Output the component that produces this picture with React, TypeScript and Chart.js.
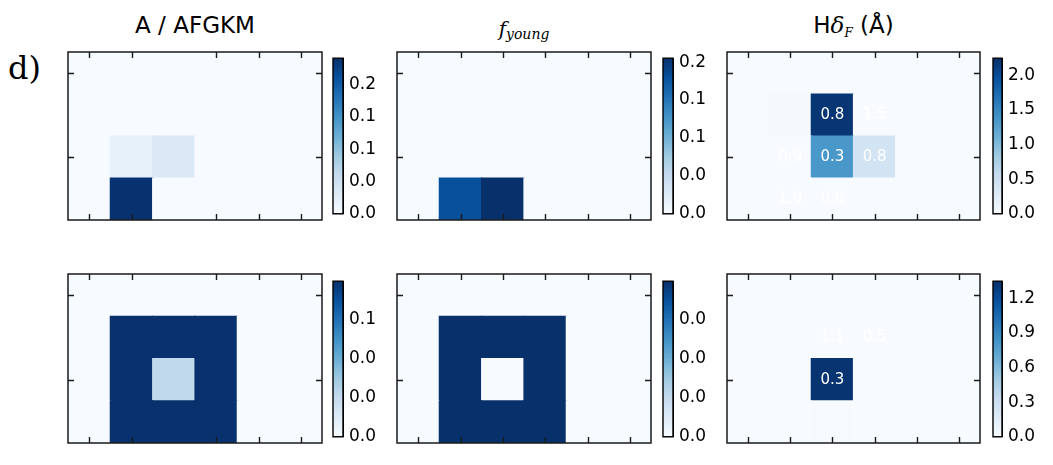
import React, { useEffect, useRef } from "react";
import { Chart, registerables } from "chart.js";

Chart.register(...registerables);
Chart.defaults.font.family = "DejaVu Sans";

// ---------------- data ----------------
const columnLabels = ["1", "2", "3", "4", "5", "6"];
const yTickRows = [1.5, 3.5]; // row centres (counted from bottom) that carry a tick

// cell values, rows listed top -> bottom
const aTopValues = [
  [0, 0, 0, 0, 0, 0],
  [0, 0, 0, 0, 0, 0],
  [0, 0.017, 0.03, 0, 0, 0],
  [0, 0.215, 0, 0, 0, 0],
];
const youngTopValues = [
  [0, 0, 0, 0, 0, 0],
  [0, 0, 0, 0, 0, 0],
  [0, 0, 0, 0, 0, 0],
  [0, 0.173, 0.197, 0, 0, 0],
];
const hTopValues = [
  [0, 0, 0, 0, 0, 0],
  [0, 0.03, 2.2, 0, 0, 0],
  [0, 0, 1.35, 0.42, 0, 0],
  [0, 0, 0, 0, 0, 0],
];
const hTopText = [
  ["", "", "", "", "", ""],
  ["", "", "0.8", "1.5", "", ""],
  ["", "0.9", "0.3", "0.8", "", ""],
  ["", "1.0", "0.6", "", "", ""],
];
const aBottomValues = [
  [0, 0, 0, 0, 0, 0],
  [0, 0.079, 0.079, 0.079, 0, 0],
  [0, 0.079, 0.021, 0.079, 0, 0],
  [0, 0.079, 0.079, 0.079, 0, 0],
];
const youngBottomValues = [
  [0, 0, 0, 0, 0, 0],
  [0, 0.0476, 0.0476, 0.0476, 0, 0],
  [0, 0.0476, 0, 0.0476, 0, 0],
  [0, 0.0476, 0.0476, 0.0476, 0, 0],
];
const hBottomValues = [
  [0, 0, 0, 0, 0, 0],
  [0, 0, 0, 0, 0, 0],
  [0, 0.01, 1.33, 0, 0, 0],
  [0, 0, 0.01, 0, 0, 0],
];
const hBottomText = [
  ["", "", "", "", "", ""],
  ["", "", "1.1", "0.5", "", ""],
  ["", "", "0.3", "", "", ""],
  ["", "", "", "", "", ""],
];

// colour bars
const cbATopMax = 0.217;
const cbATopTicks = [0, 0.045, 0.09, 0.135, 0.18];
const cbATopLabels = ["0.0", "0.0", "0.1", "0.1", "0.2"];
const cbYoungTopMax = 0.197;
const cbYoungTopTicks = [0, 0.048, 0.096, 0.144, 0.192];
const cbYoungTopLabels = ["0.0", "0.0", "0.1", "0.1", "0.2"];
const cbHTopMax = 2.25;
const cbHTopTicks = [0, 0.5, 1.0, 1.5, 2.0];
const cbHTopLabels = ["0.0", "0.5", "1.0", "1.5", "2.0"];
const cbABottomMax = 0.0794;
const cbABottomTicks = [0, 0.02, 0.04, 0.06];
const cbABottomLabels = ["0.0", "0.0", "0.0", "0.1"];
const cbYoungBottomMax = 0.0476;
const cbYoungBottomTicks = [0, 0.012, 0.024, 0.036];
const cbYoungBottomLabels = ["0.0", "0.0", "0.0", "0.0"];
const cbHBottomMax = 1.35;
const cbHBottomTicks = [0, 0.3, 0.6, 0.9, 1.2];
const cbHBottomLabels = ["0.0", "0.3", "0.6", "0.9", "1.2"];

// ---------------- colour map ----------------
const BLUES = ["#f7fbff", "#deebf7", "#c6dbef", "#9ecae1", "#6baed6", "#4292c6", "#2171b5", "#08519c", "#08306b"];
function hexToRgb(h: string) {
  return [parseInt(h.slice(1, 3), 16), parseInt(h.slice(3, 5), 16), parseInt(h.slice(5, 7), 16)];
}
function blues(t: number) {
  const c = Math.max(0, Math.min(1, t));
  const p = c * 8;
  const i = Math.min(7, Math.floor(p));
  const f = p - i;
  const a = hexToRgb(BLUES[i]);
  const b = hexToRgb(BLUES[i + 1]);
  const m = a.map((v, k) => Math.round(v + (b[k] - v) * f));
  return `rgb(${m[0]},${m[1]},${m[2]})`;
}

// ---------------- chart builders ----------------
function heatConfig(values: number[][], vmax: number, hiddenTicks: number[], texts?: string[][]) {
  const nRows = values.length;
  const datasets = [];
  for (let r = 0; r < nRows; r++) {
    const row = values[nRows - 1 - r];
    datasets.push({
      data: row.map(() => 1),
      backgroundColor: row.map((v) => blues(v / vmax)),
      borderWidth: 0,
      inflateAmount: 0.6,
      barPercentage: 1,
      categoryPercentage: 1,
    });
  }
  const plugin = {
    id: "heatFrame",
    afterDatasetsDraw(chart: any) {
      if (!texts) return;
      const { ctx, scales } = chart;
      ctx.save();
      ctx.fillStyle = "#ffffff";
      ctx.font = "15px 'DejaVu Sans'";
      ctx.textAlign = "center";
      ctx.textBaseline = "middle";
      texts.forEach((row, ri) => {
        row.forEach((t, ci) => {
          if (!t) return;
          const x = scales.x.getPixelForValue(ci);
          const y = scales.y.getPixelForValue(nRows - 1 - ri + 0.5);
          ctx.fillText(t, x, y);
        });
      });
      ctx.restore();
    },
    afterDraw(chart: any) {
      const { ctx, chartArea: a, scales } = chart;
      ctx.save();
      ctx.strokeStyle = "#1a1a1a";
      ctx.lineWidth = 1.4;
      const tl = 6;
      ctx.beginPath();
      columnLabels.forEach((_, i) => {
        if (hiddenTicks.includes(i)) return;
        const x = Math.round(scales.x.getPixelForValue(i)) + 0.5;
        ctx.moveTo(x, a.top);
        ctx.lineTo(x, a.top + tl);
        ctx.moveTo(x, a.bottom);
        ctx.lineTo(x, a.bottom - tl);
      });
      yTickRows.forEach((v) => {
        const y = Math.round(scales.y.getPixelForValue(v)) + 0.5;
        ctx.moveTo(a.left, y);
        ctx.lineTo(a.left + tl, y);
        ctx.moveTo(a.right, y);
        ctx.lineTo(a.right - tl, y);
      });
      ctx.stroke();
      ctx.lineWidth = 1.5;
      ctx.strokeRect(a.left, a.top, a.right - a.left, a.bottom - a.top);
      ctx.restore();
    },
  };
  return {
    type: "bar",
    data: { labels: columnLabels, datasets },
    options: {
      animation: false,
      responsive: false,
      devicePixelRatio: 1,
      layout: { padding: 2 },
      plugins: { legend: { display: false }, tooltip: { enabled: false } },
      scales: {
        x: { display: false, stacked: true },
        y: { display: false, stacked: true, min: 0, max: nRows },
      },
    },
    plugins: [plugin],
  };
}

function colorbarConfig(vmax: number, ticks: number[], labels: string[]) {
  const frame = {
    id: "cbFrame",
    afterDraw(chart: any) {
      const { ctx, chartArea: a } = chart;
      ctx.save();
      ctx.strokeStyle = "#000";
      ctx.lineWidth = 1.4;
      ctx.strokeRect(a.left, a.top, a.right - a.left, a.bottom - a.top);
      ctx.restore();
    },
  };
  return {
    type: "bar",
    data: {
      labels: [""],
      datasets: [
        {
          data: [vmax],
          backgroundColor: (c: any) => {
            const { ctx, chartArea } = c.chart;
            if (!chartArea) return BLUES[4];
            const g = ctx.createLinearGradient(0, chartArea.bottom, 0, chartArea.top);
            BLUES.forEach((col, k) => g.addColorStop(k / 8, col));
            return g;
          },
          borderWidth: 0,
          barPercentage: 1,
          categoryPercentage: 1,
        },
      ],
    },
    options: {
      animation: false,
      responsive: false,
      devicePixelRatio: 1,
      layout: { padding: { top: 12, bottom: 12, left: 1, right: 0 } },
      plugins: { legend: { display: false }, tooltip: { enabled: false } },
      scales: {
        x: { display: false },
        y: {
          position: "right",
          min: 0,
          max: vmax,
          z: 1,
          afterBuildTicks: (s: any) => {
            s.ticks = ticks.map((v) => ({ value: v }));
          },
          afterFit: (s: any) => {
            s.width = 44;
          },
          ticks: {
            callback: (_v: any, i: number) => labels[i],
            color: "#000",
            font: { family: "DejaVu Sans", size: 17 },
            padding: 6,
          },
          grid: { color: "#000", lineWidth: 1, drawTicks: false, drawOnChartArea: true },
          border: { display: true, color: "#000", width: 1 },
        },
      },
    },
    plugins: [frame],
  };
}

function ChartCanvas(props: { left: number; top: number; width: number; height: number; make: () => any }) {
  const ref = useRef<HTMLCanvasElement>(null);
  useEffect(() => {
    const chart = new Chart(ref.current as HTMLCanvasElement, props.make());
    return () => chart.destroy();
  }, []);
  return (
    <canvas
      ref={ref}
      width={props.width}
      height={props.height}
      style={{ position: "absolute", left: props.left, top: props.top, width: props.width, height: props.height }}
    />
  );
}

const panelLefts = [68, 397, 727];
const panelWidths = [254, 254, 253];
const rowTops = [52, 274];
const rowHeights = [168, 169];
const cbLefts = [333, 663, 993];
const cbWidths = [10, 10, 9];
const cbTops = [54, 277];
const cbHeight = 164;

function Heat(p: { col: number; row: number; values: number[][]; vmax: number; hidden: number[]; texts?: string[][] }) {
  return (
    <ChartCanvas
      left={panelLefts[p.col] - 2}
      top={rowTops[p.row] - 2}
      width={panelWidths[p.col] + 4}
      height={rowHeights[p.row] + 4}
      make={() => heatConfig(p.values, p.vmax, p.hidden, p.texts)}
    />
  );
}

function Bar(p: { col: number; row: number; vmax: number; ticks: number[]; labels: string[] }) {
  return (
    <ChartCanvas
      left={cbLefts[p.col] - 1}
      top={cbTops[p.row] - 12}
      width={cbWidths[p.col] + 1 + 44}
      height={cbHeight + 24}
      make={() => colorbarConfig(p.vmax, p.ticks, p.labels)}
    />
  );
}

const titleBase: React.CSSProperties = {
  position: "absolute",
  textAlign: "center",
  fontFamily: "DejaVu Sans",
  fontSize: 23,
  lineHeight: "23px",
  color: "#000",
  whiteSpace: "nowrap",
};

export default function App() {
  return (
    <div style={{ position: "absolute", left: 0, top: 0, width: 1053, height: 465, background: "#fff", overflow: "hidden" }}>
      <div style={{ position: "absolute", left: 8, top: 52, fontFamily: "DejaVu Serif", fontSize: 32, lineHeight: "32px", color: "#000" }}>
        d)
      </div>
      <div style={{ ...titleBase, left: panelLefts[0], width: panelWidths[0], top: 14 }}>A / AFGKM</div>
      <div style={{ ...titleBase, left: panelLefts[1], width: panelWidths[1], top: 17 }}>
        <span style={{ fontFamily: "DejaVu Serif", fontStyle: "italic", fontSize: 20 }}>f</span>
        <span style={{ fontFamily: "DejaVu Serif", fontStyle: "italic", fontSize: 14, position: "relative", top: 3 }}>young</span>
      </div>
      <div style={{ ...titleBase, left: panelLefts[2], width: panelWidths[2], top: 14 }}>
        <span>H</span>
        <span style={{ fontFamily: "DejaVu Serif", fontStyle: "italic" }}>δ</span>
        <span style={{ fontFamily: "DejaVu Serif", fontStyle: "italic", fontSize: 12, position: "relative", top: 4 }}>F</span>
        <span> (Å)</span>
      </div>

      <Heat col={0} row={0} values={aTopValues} vmax={cbATopMax} hidden={[2]} />
      <Heat col={1} row={0} values={youngTopValues} vmax={cbYoungTopMax} hidden={[]} />
      <Heat col={2} row={0} values={hTopValues} vmax={cbHTopMax} hidden={[]} texts={hTopText} />
      <Heat col={0} row={1} values={aBottomValues} vmax={cbABottomMax} hidden={[2]} />
      <Heat col={1} row={1} values={youngBottomValues} vmax={cbYoungBottomMax} hidden={[]} />
      <Heat col={2} row={1} values={hBottomValues} vmax={cbHBottomMax} hidden={[]} texts={hBottomText} />

      <Bar col={0} row={0} vmax={cbATopMax} ticks={cbATopTicks} labels={cbATopLabels} />
      <Bar col={1} row={0} vmax={cbYoungTopMax} ticks={cbYoungTopTicks} labels={cbYoungTopLabels} />
      <Bar col={2} row={0} vmax={cbHTopMax} ticks={cbHTopTicks} labels={cbHTopLabels} />
      <Bar col={0} row={1} vmax={cbABottomMax} ticks={cbABottomTicks} labels={cbABottomLabels} />
      <Bar col={1} row={1} vmax={cbYoungBottomMax} ticks={cbYoungBottomTicks} labels={cbYoungBottomLabels} />
      <Bar col={2} row={1} vmax={cbHBottomMax} ticks={cbHBottomTicks} labels={cbHBottomLabels} />
    </div>
  );
}
